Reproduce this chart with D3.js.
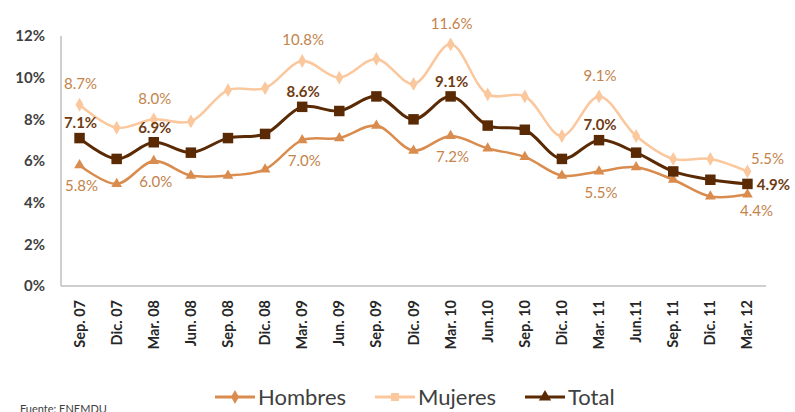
<!DOCTYPE html>
<html>
<head>
<meta charset="utf-8">
<script src="https://cdn.jsdelivr.net/npm/d3@7"></script>
<style>
  body { margin: 0; background: #fff; }
  text { font-family: Lato, "Open Sans", sans-serif; }
</style>
</head>
<body>
<script>
// datos
const categories = ["Sep. 07", "Dic. 07", "Mar. 08", "Jun. 08", "Sep. 08", "Dic. 08", "Mar. 09", "Jun. 09", "Sep. 09",
  "Dic. 09", "Mar. 10", "Jun.10", "Sep. 10", "Dic. 10", "Mar. 11", "Jun.11", "Sep. 11", "Dic. 11", "Mar. 12"];
const hombres = [5.8, 4.9, 6.0, 5.3, 5.3, 5.6, 7.0, 7.1, 7.7, 6.5, 7.2, 6.6, 6.2, 5.3, 5.5, 5.7, 5.1, 4.3, 4.4];
const mujeres = [8.7, 7.6, 8.0, 7.9, 9.4, 9.5, 10.8, 10.0, 10.9, 9.7, 11.6, 9.2, 9.1, 7.2, 9.1, 7.2, 6.1, 6.1, 5.5];
const total = [7.1, 6.1, 6.9, 6.4, 7.1, 7.3, 8.6, 8.4, 9.1, 8.0, 9.1, 7.7, 7.5, 6.1, 7.0, 6.4, 5.5, 5.1, 4.9];
const yTicks = [0, 2, 4, 6, 8, 10, 12];
// indices con etiqueta de dato
const labelIdx = [0, 2, 6, 10, 14, 18];

const width = 795, height = 412;
const cHom = "#d98c4e", cMuj = "#fbc79d", cTot = "#5a2a05";
const cLab = "#c3834b", cTotLab = "#6e3b12";

const svg = d3.select("body").append("svg").attr("width", width).attr("height", height);

const x = d3.scalePoint().domain(categories).range([61, 766]).padding(0.5);
const y = d3.scaleLinear().domain([0, 12]).range([286, 36]);

// ejes
svg.append("line").attr("x1", 61).attr("x2", 61).attr("y1", 36).attr("y2", 286).attr("stroke", "#bfbfbf").attr("stroke-width", 1.5);
svg.append("line").attr("x1", 61).attr("x2", 766).attr("y1", 286).attr("y2", 286).attr("stroke", "#bfbfbf").attr("stroke-width", 1.5);

svg.selectAll(".ytick").data(yTicks).join("text")
  .attr("x", 45).attr("y", d => y(d)).attr("dy", "0.35em")
  .attr("text-anchor", "end").style("font-size", "15px").style("font-weight", "bold").attr("fill", "#404040")
  .text(d => d + "%");

svg.selectAll(".xtick").data(categories).join("text")
  .attr("transform", d => `translate(${x(d) + 5},300) rotate(-90)`)
  .attr("text-anchor", "end").style("font-size", "14.5px").style("font-weight", "bold").attr("fill", "#262626")
  .text(d => d);

const line = d3.line().x((d, i) => x(categories[i])).y(d => y(d)).curve(d3.curveCatmullRom.alpha(0.5));

function symbolPath(type, size) { return d3.symbol().type(type).size(size)(); }

const series = [
  { vals: mujeres, color: cMuj, sym: d3.symbolDiamond, size: 55, w: 2.5 },
  { vals: hombres, color: cHom, sym: d3.symbolTriangle, size: 50, w: 2.5 },
  { vals: total, color: cTot, sym: d3.symbolSquare, size: 110, w: 3 }
];

series.forEach(s => {
  svg.append("path").attr("d", line(s.vals)).attr("fill", "none").attr("stroke", s.color).attr("stroke-width", s.w);
  svg.selectAll(null).data(s.vals).join("path")
    .attr("transform", (d, i) => `translate(${x(categories[i])},${y(d)})`)
    .attr("d", symbolPath(s.sym, s.size)).attr("fill", s.color);
});

// etiquetas de datos
const fmt = v => v.toFixed(1) + "%";
const lab = (vals, dx, dy, color, bold, lastDx, lastDy) => {
  svg.selectAll(null).data(labelIdx).join("text")
    .attr("x", i => x(categories[i]) + (i === 18 ? lastDx : dx))
    .attr("y", i => y(vals[i]) + (i === 18 ? lastDy : dy))
    .attr("text-anchor", "middle").attr("dy", "0.35em")
    .style("font-size", "15px").style("font-weight", bold ? "bold" : "normal").attr("fill", color)
    .text(i => fmt(vals[i]));
};
lab(mujeres, 1, -21, cLab, false, 20, -13);
lab(total, 1, -15, cTotLab, true, 26, 1);
lab(hombres, 2, 21, cLab, false, 9, 16);

// leyenda
const legend = [
  { name: "Hombres", color: cHom, sym: d3.symbolDiamond, size: 55, x0: 215 },
  { name: "Mujeres", color: cMuj, sym: d3.symbolSquare, size: 65, x0: 375 },
  { name: "Total", color: cTot, sym: d3.symbolTriangle, size: 65, x0: 525 }
];
legend.forEach(l => {
  svg.append("line").attr("x1", l.x0).attr("x2", l.x0 + 40).attr("y1", 397).attr("y2", 397).attr("stroke", l.color).attr("stroke-width", 3);
  svg.append("path").attr("transform", `translate(${l.x0 + 20},397)`).attr("d", symbolPath(l.sym, l.size)).attr("fill", l.color);
  svg.append("text").attr("x", l.x0 + 43).attr("y", 397).attr("dy", "0.35em")
    .style("font-size", "22px").attr("fill", "#404040").text(l.name);
});

svg.append("text").attr("x", 20).attr("y", 413).style("font-size", "11px").attr("fill", "#404040").text("Fuente: ENEMDU");
</script>
</body>
</html>
